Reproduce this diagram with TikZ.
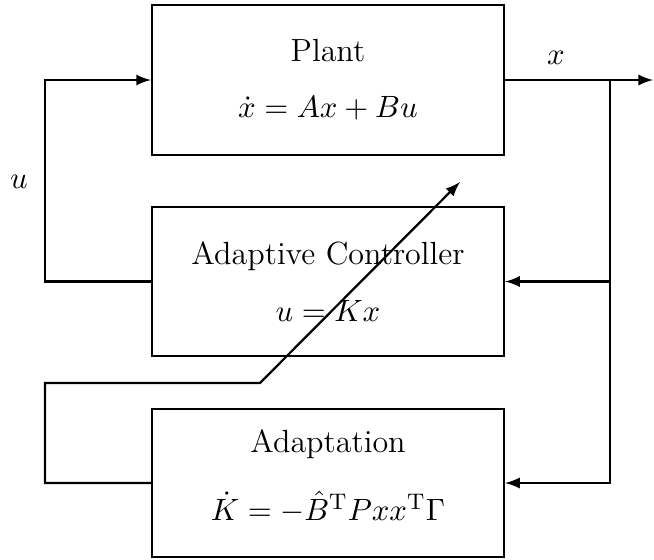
\documentclass[tikz,border=0pt]{standalone}
\usetikzlibrary{calc}
\tikzset{
  blockbox/.style={
    draw,
    line width=0.8pt,
    minimum width=352*0.0125cm,
    align=center,
    font=\fontsize{11.4}{13.5}\selectfont
  },
  sigline/.style={line width=0.8pt},
  siglabel/.style={font=\fontsize{11.4}{13.5}\selectfont}
}

\begin{document}
\begin{tikzpicture}[x=0.0125cm,y=-0.0125cm,>=latex]
  \useasboundingbox (0,0) rectangle (654,559);

  \node[blockbox,minimum height=150*0.0125cm] (plant) at (328,80)
    {Plant\\[6.5pt]$\dot{x} = Ax + Bu$};
  \node[blockbox,minimum height=149*0.0125cm] (ctrl) at (328,281.5)
    {Adaptive Controller\\[6.5pt]$u = Kx$};
  \node[blockbox,minimum height=148*0.0125cm] (adapt) at (328,483)
    {Adaptation\\[10.5pt]$\dot{K} = -\hat{B}^{\mathrm{T}}Pxx^{\mathrm{T}}\Gamma$\rule[-5.6pt]{0pt}{5.6pt}};

  \coordinate (uL) at (45,80);
  \coordinate (xout) at (653,80);
  \coordinate (xsplit) at (610,80);
  \coordinate (kL) at (45,383);
  \coordinate (kK) at (260,383);
  \coordinate (kTip) at (460,182);

  \node[siglabel] (xlab) at (556,58) {$x$};
  \node[siglabel] (ulab) at (19,182) {$u$};

  % plant input from controller
  \draw[sigline,->] (ctrl.west) -| (uL) -- (plant.west);
  % plant output and feedback
  \draw[sigline,->] (plant.east) -- (xout);
  \draw[sigline,->] (xsplit) |- (adapt.east);
  \draw[sigline,->] (xsplit |- ctrl.east) -- (ctrl.east);
  % adaptation of the gain
  \draw[sigline,->] (adapt.west) -| (kL) -- (kK) -- (kTip);
\end{tikzpicture}
\end{document}
